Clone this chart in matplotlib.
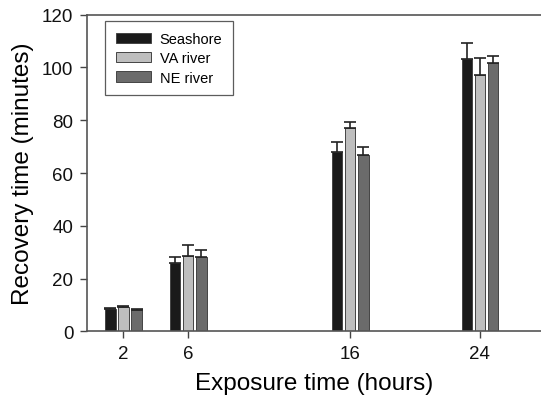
import matplotlib
matplotlib.use("Agg")
import matplotlib.pyplot as plt
import numpy as np

plt.rcParams['font.family'] = ['Liberation Sans', 'DejaVu Sans']

hours = [2, 6, 16, 24]
series = ["Seashore", "VA river", "NE river"]
seashore = [8.4, 26.0, 68.1, 103.1]
seashore_err = [0.5, 2.2, 3.8, 6.2]
va_river = [9.1, 28.5, 77.0, 97.2]
va_err = [0.5, 4.1, 2.2, 6.3]
ne_river = [8.1, 28.0, 66.9, 101.8]
ne_err = [0.5, 2.7, 3.1, 2.7]

colors = ["#1a1a1a", "#bebebe", "#6b6b6b"]
values = [seashore, va_river, ne_river]
errors = [seashore_err, va_err, ne_err]

fig = plt.figure(figsize=(5.41, 4.06), dpi=100)
ax = fig.add_axes([0.1614, 0.1815, 0.8386, 0.7798])

x = np.array(hours, dtype=float)
offset = 0.81
width = 0.64
for i, (name, vals, errs, c) in enumerate(zip(series, values, errors, colors)):
    pos = x + (i - 1) * offset
    ax.bar(pos, vals, width=width, color=c, edgecolor="#444444", linewidth=0.7,
           label=name, zorder=2)
    ax.errorbar(pos, vals, yerr=[np.zeros(len(errs)), errs], fmt='none',
                ecolor='#222222', elinewidth=1.2, capsize=4, capthick=1.2, zorder=3)

ax.set_xlim(-0.23, 27.77)
ax.set_ylim(0, 120)
ax.set_xticks(hours)
ax.set_yticks(range(0, 121, 20))
ax.tick_params(direction='out', length=5, width=1, color='#444444',
               labelsize=13.5, labelcolor='#111111', pad=5)
for s in ['left', 'bottom', 'top']:
    ax.spines[s].set_color('#555555')
    ax.spines[s].set_linewidth(1.2)
ax.spines['right'].set_visible(False)

ax.set_xlabel("Exposure time (hours)", fontsize=17.5, labelpad=7)
ax.set_ylabel("Recovery time (minutes)", fontsize=17.5, labelpad=6)

leg = ax.legend(loc='upper left', bbox_to_anchor=(0.039, 0.979), borderaxespad=0,
                fontsize=10.5, frameon=True, fancybox=False, edgecolor='#333333',
                handlelength=2.4, handleheight=0.7, borderpad=0.75, labelspacing=0.35,
                handletextpad=0.6)
leg.get_frame().set_linewidth(0.9)

fig.savefig("out.png", dpi=100)
